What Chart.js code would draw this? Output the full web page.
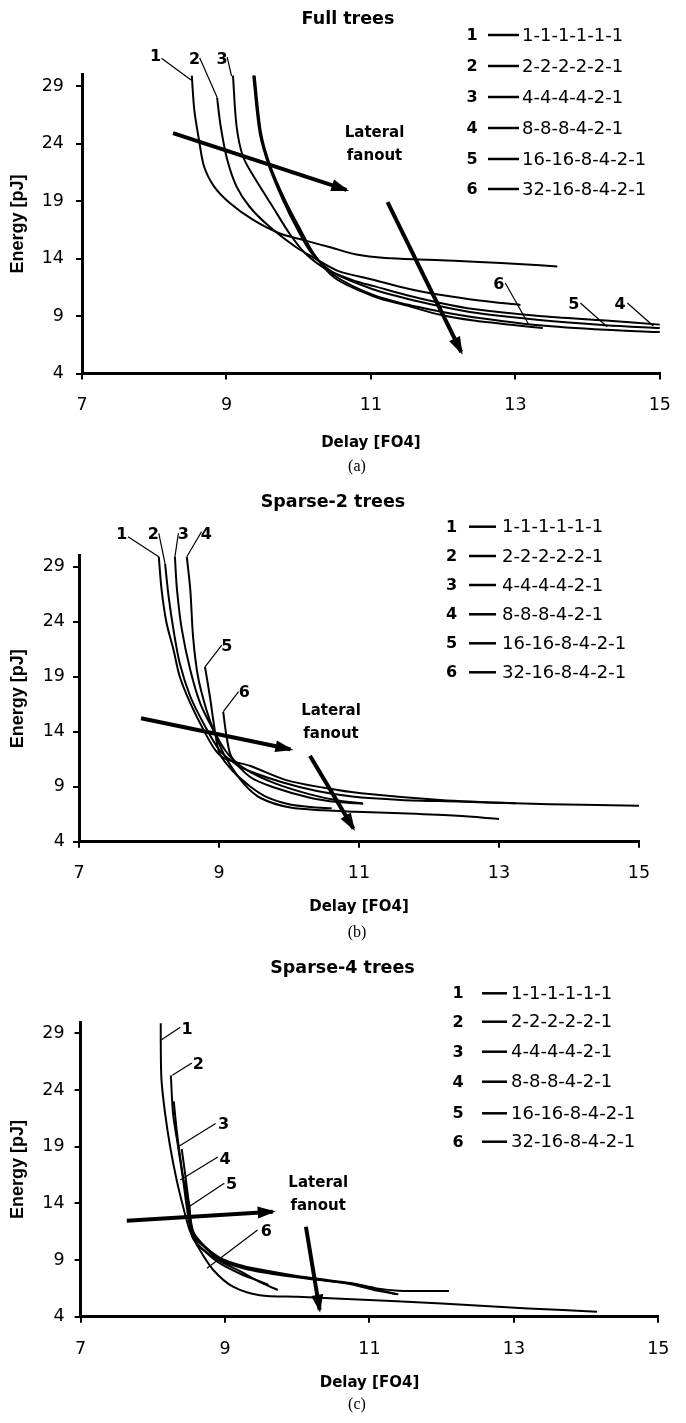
<!DOCTYPE html>
<html>
<head>
<meta charset="utf-8">
<script src="https://cdn.jsdelivr.net/npm/chart.js@4.4.1/dist/chart.umd.min.js"></script>
<style>
  body { margin: 0; background: #fff; width: 686px; height: 1423px; position: relative; overflow: hidden; }
  canvas { position: absolute; left: 0; }
</style>
</head>
<body>
<canvas id="fullChart" width="686" height="474" style="top:0px"></canvas>
<canvas id="sparse2Chart" width="686" height="470" style="top:474px"></canvas>
<canvas id="sparse4Chart" width="686" height="479" style="top:944px"></canvas>
<script>
const treeShapes = ["1-1-1-1-1-1", "2-2-2-2-2-1", "4-4-4-4-2-1", "8-8-8-4-2-1", "16-16-8-4-2-1", "32-16-8-4-2-1"];
const curveNumbers = ["1", "2", "3", "4", "5", "6"];
const delayTicks = [7, 9, 11, 13, 15];
const energyTicks = [4, 9, 14, 19, 24, 29];

// (a) full trees, [delay FO4, energy pJ]
const full1 = [[8.52,29.9],[8.555,26.9],[8.62,24.3],[8.69,22.0],[8.83,20.25],[9.05,18.8],[9.37,17.35],[9.73,16.2],[10.07,15.6],[10.45,14.95],[10.8,14.35],[11.2,14.05],[11.8,13.9],[12.5,13.7],[13.1,13.5],[13.58,13.3]];
const full2 = [[8.87,28.0],[8.92,25.5],[9.01,22.6],[9.14,20.25],[9.32,18.5],[9.59,16.8],[9.96,15.0],[10.2,14.1],[10.55,12.9],[11.0,12.2],[11.5,11.4],[12.0,10.8],[12.5,10.35],[13.07,9.96]];
const full3 = [[9.09,29.9],[9.14,25.5],[9.23,22.85],[9.41,20.8],[9.64,18.5],[9.87,16.2],[10.09,14.45],[10.4,13.0],[10.8,12.0],[11.04,11.6],[11.5,10.8],[11.96,10.13],[12.42,9.6],[13.33,9.0],[14.25,8.6],[15.0,8.25]];
const full4 = [[9.37,29.9],[9.46,24.9],[9.59,22.0],[9.78,19.1],[9.96,16.8],[10.18,14.45],[10.5,12.7],[11.04,11.3],[11.5,10.5],[11.96,9.85],[12.42,9.3],[13.33,8.65],[14.25,8.2],[15.0,7.95]];
const full5 = [[9.38,29.9],[9.47,24.9],[9.6,22.0],[9.8,19.1],[9.98,16.8],[10.2,14.4],[10.5,12.5],[11.04,10.8],[11.5,10.0],[11.96,9.4],[12.42,8.9],[13.33,8.2],[14.25,7.8],[15.0,7.6]];
const full6 = [[9.39,29.9],[9.48,24.9],[9.61,22.0],[9.81,19.1],[10.0,16.8],[10.21,14.4],[10.5,12.3],[11.04,10.7],[11.5,9.9],[11.96,9.1],[12.42,8.6],[13.0,8.2],[13.38,7.95]];

// (b) sparse-2 trees
const sparse2_1 = [[8.14,29.9],[8.18,26.9],[8.25,23.9],[8.35,21.45],[8.44,19.0],[8.59,16.6],[8.78,14.15],[8.95,12.3],[9.1,11.5],[9.44,10.9],[9.96,9.6],[10.5,8.9],[11.03,8.4],[12.16,7.8],[13.23,7.5],[14.2,7.35],[15.0,7.27]];
const sparse2_2 = [[8.23,29.25],[8.28,26.3],[8.35,23.25],[8.44,20.2],[8.59,17.2],[8.78,14.75],[9.01,12.3],[9.25,11.0],[9.44,10.4],[9.9,9.4],[10.4,8.6],[10.9,8.1],[11.6,7.8],[12.4,7.65],[13.23,7.5]];
const sparse2_3 = [[8.37,29.9],[8.40,26.9],[8.47,23.25],[8.59,19.6],[8.73,16.6],[8.92,14.15],[9.1,12.2],[9.44,9.9],[9.8,8.9],[10.3,8.0],[10.7,7.6],[11.06,7.45]];
const sparse2_4 = [[8.54,29.9],[8.59,26.9],[8.63,22.6],[8.70,19.0],[8.82,16.0],[8.94,13.85],[9.1,11.6],[9.35,9.3],[9.6,7.95],[10.02,7.1],[10.5,6.85],[10.95,6.73],[11.6,6.58],[12.4,6.35],[13.0,6.07]];
const sparse2_5 = [[8.80,19.9],[8.87,17.2],[8.94,14.15],[9.01,12.0],[9.2,10.4],[9.45,9.0],[9.7,8.0],[10.0,7.4],[10.3,7.15],[10.61,7.04]];
const sparse2_6 = [[9.06,15.8],[9.11,13.5],[9.18,11.7],[9.4,10.5],[9.8,9.3],[10.3,8.3],[10.7,7.75],[11.05,7.5]];

// (c) sparse-4 trees
const sparse4_1 = [[8.11,29.9],[8.11,28.0],[8.12,24.9],[8.17,21.95],[8.24,19.0],[8.33,16.07],[8.42,13.7],[8.51,11.65],[8.65,9.9],[8.84,8.1],[9.11,6.65],[9.48,5.9],[10.0,5.75],[10.76,5.55],[12.0,5.17],[13.2,4.73],[14.15,4.44]];
const sparse4_2 = [[8.25,25.3],[8.28,21.95],[8.35,19.0],[8.42,16.07],[8.47,13.7],[8.54,11.4],[8.7,10.3],[8.93,9.2],[9.24,8.5],[9.54,8.1],[10.15,7.45],[10.76,6.95],[11.1,6.5],[11.4,6.3],[12.1,6.27]];
const sparse4_3 = [[8.29,23.0],[8.33,20.5],[8.38,18.0],[8.44,15.5],[8.5,13.3],[8.56,11.2],[8.72,10.1],[8.93,9.0],[9.24,8.3],[9.54,7.9],[10.15,7.35],[10.76,6.9],[11.1,6.4],[11.37,6.0]];
const sparse4_4 = [[8.40,18.8],[8.45,16.5],[8.5,14.0],[8.56,11.5],[8.72,10.2],[8.93,9.1],[9.24,8.4],[9.54,8.0],[10.15,7.4],[10.76,6.85],[11.1,6.3],[11.4,5.98]];
const sparse4_5 = [[8.45,16.0],[8.5,13.5],[8.55,11.0],[8.7,9.9],[8.93,8.9],[9.24,7.9],[9.5,7.0],[9.73,6.36]];
const sparse4_6 = [[8.5,14.2],[8.53,12.0],[8.6,10.6],[8.75,9.6],[8.93,8.7],[9.24,7.7],[9.45,7.2],[9.6,6.8]];

// annotations in data coordinates: curve numbers with leader lines, the two arrows, "Lateral fanout"
const fullNotes = {
  labels: [["1", 8.02, 31.5], ["2", 8.56, 31.26], ["3", 8.94, 31.26], ["6", 12.77, 11.7], ["5", 13.81, 9.96], ["4", 14.45, 9.96]],
  leaders: [[[8.10,31.41],[8.51,29.52]], [[8.63,31.43],[8.87,28.02]], [[9.01,31.52],[9.07,29.87]],
            [[12.86,11.87],[13.18,8.3]], [[13.9,10.13],[14.27,8.07]], [[14.55,10.13],[14.91,8.13]]],
  arrows: [[[8.26,24.9],[10.66,19.96]], [[11.23,18.9],[12.25,5.87]]],
  lateral: [11.05, 23.87]
};
const sparse2Notes = {
  labels: [["1", 7.61, 31.88], ["2", 8.06, 31.88], ["3", 8.49, 31.88], ["4", 8.82, 31.88], ["5", 9.11, 21.73], ["6", 9.36, 17.49]],
  leaders: [[[7.70,31.73],[8.14,29.9]], [[8.14,32.04],[8.23,29.25]], [[8.42,32.04],[8.37,29.9]],
            [[8.75,32.18],[8.54,29.9]], [[9.04,21.88],[8.80,19.9]], [[9.28,17.64],[9.06,15.82]]],
  arrows: [[[7.886,15.22],[10.02,12.4]], [[10.3,11.8],[10.92,5.2]]],
  lateral: [10.6, 14.84]
};
const sparse4Notes = {
  labels: [["1", 8.475, 29.36], ["2", 8.63, 26.2], ["3", 8.98, 20.9], ["4", 9.0, 17.8], ["5", 9.09, 15.6], ["6", 9.57, 11.5]],
  leaders: [[[8.38,29.55],[8.11,28.4]], [[8.54,26.4],[8.27,25.3]], [[8.87,21.05],[8.35,19.0]],
            [[8.9,18.1],[8.38,16.06]], [[8.99,15.77],[8.5,13.7]], [[9.45,11.65],[8.75,8.27]]],
  arrows: [[[7.64,12.47],[9.66,13.27]], [[10.12,11.94],[10.31,4.6]]],
  lateral: [10.29, 14.74]
};

Chart.defaults.font.family = '"DejaVu Sans", sans-serif';
Chart.defaults.color = "#000";

const panels = [
  { id: "fullChart", title: "Full trees", caption: "(a)", h: 474,
    curves: [full1, full2, full3, full4, full5, full6], notes: fullNotes,
    area: { left: 82, right: 672, top: 74.5, bottom: 373.5 },
    titleAt: [348, 19], captionY: 467, xTickPad: 15, yTickPad: 12, xTitlePad: 22,
    legend: { numX: 472, lineX: [488, 519], textX: 522, rows: [35, 66, 97, 128, 159, 189] } },
  { id: "sparse2Chart", title: "Sparse-2 trees", caption: "(b)", h: 470,
    curves: [sparse2_1, sparse2_2, sparse2_3, sparse2_4, sparse2_5, sparse2_6], notes: sparse2Notes,
    area: { left: 79, right: 639, top: 81.7, bottom: 367.7 },
    titleAt: [333, 28], captionY: 459, xTickPad: 15, yTickPad: 8, xTitlePad: 28,
    legend: { numX: 451.5, lineX: [469, 496], textX: 502, rows: [52.7, 82, 111, 140.3, 169.3, 198.3] } },
  { id: "sparse4Chart", title: "Sparse-4 trees", caption: "(c)", h: 479,
    curves: [sparse4_1, sparse4_2, sparse4_3, sparse4_4, sparse4_5, sparse4_6], notes: sparse4Notes,
    area: { left: 80.6, right: 658.6, top: 78.1, bottom: 372.7 },
    titleAt: [342.5, 24.3], captionY: 461, xTickPad: 16.5, yTickPad: 10, xTitlePad: 31,
    legend: { numX: 458, lineX: [482, 507], textX: 511, rows: [49.3, 77.7, 107.7, 137.7, 169.3, 197.7] } }
];

function notesPlugin(P) {
  return {
    id: "notes",
    afterDatasetsDraw(chart) {
      const ctx = chart.ctx;
      const px = v => chart.scales.x.getPixelForValue(v);
      const py = v => chart.scales.y.getPixelForValue(v);
      ctx.save();
      ctx.fillStyle = "#000";
      ctx.strokeStyle = "#000";

      // arrow heads
      P.notes.arrows.forEach(([a, b]) => {
        const x1 = px(a[0]), y1 = py(a[1]), x2 = px(b[0]), y2 = py(b[1]);
        const ang = Math.atan2(y2 - y1, x2 - x1);
        const c = Math.cos(ang), s = Math.sin(ang);
        const len = 15, half = 6;
        ctx.beginPath();
        ctx.moveTo(x2 + 3 * c, y2 + 3 * s);
        ctx.lineTo(x2 - len * c + half * s, y2 - len * s - half * c);
        ctx.lineTo(x2 - len * c - half * s, y2 - len * s + half * c);
        ctx.closePath();
        ctx.fill();
      });

      ctx.textAlign = "center";
      ctx.textBaseline = "middle";
      ctx.font = 'bold 16px "DejaVu Sans"';
      P.notes.labels.forEach(([t, x, y]) => ctx.fillText(t, px(x), py(y)));

      ctx.font = 'bold 15px "DejaVu Sans"';
      const lx = px(P.notes.lateral[0]), ly = py(P.notes.lateral[1]);
      ctx.fillText("Lateral", lx, ly - 11.5);
      ctx.fillText("fanout", lx, ly + 11.5);
      ctx.restore();
    },
    afterDraw(chart) {
      const ctx = chart.ctx;
      ctx.save();
      ctx.fillStyle = "#000";
      ctx.strokeStyle = "#000";
      ctx.textBaseline = "middle";

      ctx.textAlign = "center";
      ctx.font = 'bold 17.5px "DejaVu Sans"';
      ctx.fillText(P.title, P.titleAt[0], P.titleAt[1]);

      ctx.font = '16px "Liberation Serif"';
      ctx.fillText(P.caption, 357, P.captionY);

      const L = P.legend;
      treeShapes.forEach((name, i) => {
        const y = L.rows[i];
        ctx.textAlign = "center";
        ctx.font = 'bold 16px "DejaVu Sans"';
        ctx.fillText(curveNumbers[i], L.numX, y + 1);
        ctx.lineWidth = 2.5;
        ctx.beginPath();
        ctx.moveTo(L.lineX[0], y);
        ctx.lineTo(L.lineX[1], y);
        ctx.stroke();
        ctx.textAlign = "left";
        ctx.font = '18px "DejaVu Sans"';
        ctx.fillText(name, L.textX, y + 1);
      });
      ctx.restore();
    }
  };
}

panels.forEach(P => {
  const curveSets = P.curves.map(d => ({
    data: d, showLine: true, borderColor: "#000", borderWidth: 2,
    pointRadius: 0, tension: 0.3, fill: false
  }));
  const leaderSets = P.notes.leaders.map(d => ({
    data: d, showLine: true, borderColor: "#000", borderWidth: 1.2,
    pointRadius: 0, clip: false
  }));
  const arrowSets = P.notes.arrows.map(d => ({
    data: d, showLine: true, borderColor: "#000", borderWidth: 4,
    pointRadius: 0, clip: false
  }));

  new Chart(document.getElementById(P.id), {
    type: "scatter",
    data: { datasets: [...curveSets, ...leaderSets, ...arrowSets] },
    options: {
      responsive: false,
      animation: false,
      devicePixelRatio: 1,
      events: [],
      layout: { padding: { left: 0, top: P.area.top, right: 686 - P.area.right, bottom: 0 } },
      plugins: { legend: { display: false }, tooltip: { enabled: false } },
      scales: {
        x: {
          type: "linear", min: 7, max: 15,
          afterBuildTicks: s => { s.ticks = delayTicks.map(v => ({ value: v })); },
          afterFit: s => { s.height = P.h - P.area.bottom; },
          ticks: { font: { size: 17.5 }, padding: P.xTickPad, maxRotation: 0, autoSkip: false },
          grid: { drawOnChartArea: false, color: "#000", lineWidth: 2, tickLength: 6 },
          border: { color: "#000", width: 3 },
          title: { display: true, text: "Delay [FO4]", font: { size: 15, weight: "bold" },
                   padding: { top: 0, bottom: P.xTitlePad } }
        },
        y: {
          type: "linear", min: 4, max: 30,
          afterBuildTicks: s => { s.ticks = energyTicks.map(v => ({ value: v })); },
          afterFit: s => { s.width = P.area.left; },
          ticks: { font: { size: 17.5 }, padding: P.yTickPad, autoSkip: false },
          grid: { drawOnChartArea: false, color: "#000", lineWidth: 2, tickLength: 6 },
          border: { color: "#000", width: 3 },
          title: { display: true, text: "Energy [pJ]",
                   font: { family: '"Liberation Sans", Arial, sans-serif', size: 18, weight: "bold" },
                   padding: { top: 7, bottom: 0 } }
        }
      }
    },
    plugins: [notesPlugin(P)]
  });
});
</script>
</body>
</html>
